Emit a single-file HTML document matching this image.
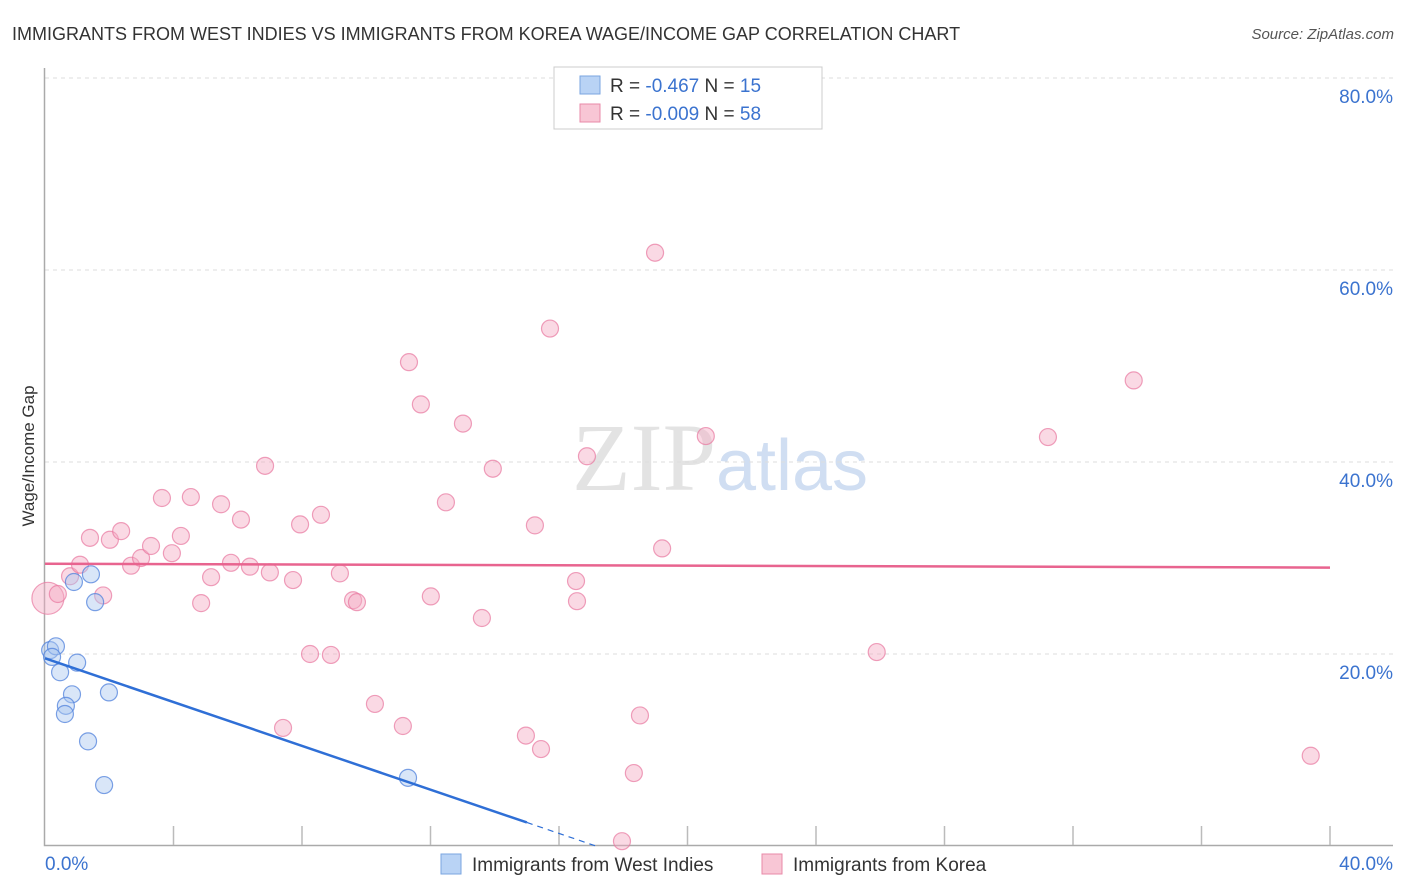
<!DOCTYPE html>
<html><head><meta charset="utf-8">
<style>
body{margin:0;background:#fff;font-family:"Liberation Sans",sans-serif;}
svg{display:block}
</style></head>
<body>
<svg id="chart" width="1406" height="892" xmlns="http://www.w3.org/2000/svg">
<text x="12" y="40" font-size="18" fill="#333">IMMIGRANTS FROM WEST INDIES VS IMMIGRANTS FROM KOREA WAGE/INCOME GAP CORRELATION CHART</text>
<text x="1394" y="39" font-size="15" fill="#555" font-style="italic" text-anchor="end">Source: ZipAtlas.com</text>
<text x="720" y="490" font-size="96" text-anchor="middle" font-family="Liberation Serif,serif" fill="#ddd" opacity="0.8">ZIP<tspan font-family="Liberation Sans,sans-serif" fill="#c5d6ef" font-size="72">atlas</tspan></text>
<g id="grid"></g>
<g id="axes"></g>
<g id="points"></g>
<g id="trends"></g>
<text transform="translate(34,456) rotate(-90)" font-size="17" fill="#333" text-anchor="middle">Wage/Income Gap</text>
<g>
<rect x="554" y="67" width="268" height="62" fill="#fff" stroke="#ccc"/>
<rect x="580" y="76" width="20" height="18" fill="#b9d3f5" stroke="#7aa6e0"/>
<text x="610" y="92" font-size="19" fill="#333">R = <tspan fill="#3b73cf">-0.467</tspan>   N = <tspan fill="#3b73cf">15</tspan></text>
<rect x="580" y="104" width="20" height="18" fill="#f8c6d5" stroke="#e88aa8"/>
<text x="610" y="120" font-size="19" fill="#333">R = <tspan fill="#3b73cf">-0.009</tspan>   N = <tspan fill="#3b73cf">58</tspan></text>
</g>
<g>
<rect x="441" y="854" width="20" height="20" fill="#b9d3f5" stroke="#7aa6e0"/>
<text x="472" y="871" font-size="19" fill="#333">Immigrants from West Indies</text>
<rect x="762" y="854" width="20" height="20" fill="#f8c6d5" stroke="#e88aa8"/>
<text x="793" y="871" font-size="19" fill="#333">Immigrants from Korea</text>
</g>
</svg>
<script>
const yTicks=[20,40,60,80];
const yTickLabels=["20.0%","40.0%","60.0%","80.0%"];
const xTickLabels=["0.0%","40.0%"];
const blueX=[0.16,0.34,0.22,0.47,0.90,1.43,1.56,1.0,0.84,0.65,0.62,1.99,1.34,1.84,11.3];
const blueY=[20.4,20.8,19.7,18.1,27.5,28.3,25.4,19.1,15.8,14.6,13.75,16.0,10.9,6.35,7.1];
const pinkX=[0.09,0.40,0.78,1.09,1.40,1.81,2.02,2.37,2.68,2.99,3.30,3.64,3.95,4.23,4.54,4.86,5.17,5.48,5.79,6.10,6.38,6.85,7.00,7.41,7.72,7.94,8.25,8.59,8.90,9.18,9.59,9.71,10.27,11.14,11.33,11.70,12.01,12.48,13.01,13.60,13.94,14.97,15.25,15.44,15.72,16.53,16.56,16.87,17.96,18.33,18.52,18.99,19.21,20.57,25.89,31.22,33.89,39.40];
const pinkY=[25.8,26.25,28.1,29.3,32.1,26.1,31.9,32.8,29.2,30.0,31.25,36.25,30.5,32.3,36.35,25.3,28.0,35.6,29.5,34.0,29.1,39.6,28.5,12.3,27.7,33.5,20.0,34.5,19.9,28.4,25.6,25.4,14.8,12.5,50.4,46.0,26.0,35.8,44.0,23.75,39.3,11.5,33.4,10.1,53.9,27.6,25.5,40.6,0.5,7.6,13.6,61.8,31.0,42.7,20.2,42.6,48.5,9.4];
const blueTrend=[19.55,-1.14]; // intercept, slope
const pinkTrend=[29.4,-0.01];
const NS="http://www.w3.org/2000/svg";
const X=v=>45+v*32.125, Y=v=>846-v*9.6;
function mk(tag,attrs,parent){const e=document.createElementNS(NS,tag);for(const k in attrs)e.setAttribute(k,attrs[k]);document.getElementById(parent).appendChild(e);return e;}
yTicks.forEach((t,i)=>{
 let g=mk('line',{x1:45,x2:1393,y1:Y(t),y2:Y(t),stroke:'#ddd','stroke-dasharray':'4,4'},'grid');
 
 
 let l=mk('text',{x:1393,y:Y(t)+25,'font-size':19,fill:'#3b73cf','text-anchor':'end'},'grid');
 l.textContent=yTickLabels[i];
 
 
});
let ax=mk('path',{d:'M44.5,68V845.5H1393',fill:'none',stroke:'#aaa','stroke-width':1.5},'axes');


for(let i=1;i<=10;i++){let t=mk('line',{x1:X(i*4),x2:X(i*4),y1:826,y2:845,stroke:'#bbb','stroke-width':1.5},'axes');
 
 }
[[0,'start',45],[1,'end',1393]].forEach(([i,a,x])=>{let l=mk('text',{x:x,y:870,'font-size':19,fill:'#3b73cf','text-anchor':a},'axes');l.textContent=xTickLabels[i];
 
 });
pinkX.forEach((x,i)=>{let c=mk('circle',{cx:X(x),cy:Y(pinkY[i]),r:i==0?16:8.5,fill:'rgba(245,170,195,0.45)',stroke:'rgba(232,120,160,0.7)','stroke-width':1.2},'points');
 
 });
blueX.forEach((x,i)=>{let c=mk('circle',{cx:X(x),cy:Y(blueY[i]),r:8.5,fill:'rgba(170,200,240,0.45)',stroke:'rgba(80,130,220,0.75)','stroke-width':1.2},'points');
 
 });
let pt=mk('line',{x1:X(0),y1:Y(pinkTrend[0]),x2:X(40),y2:Y(pinkTrend[0]+pinkTrend[1]*40),stroke:'#e8648f','stroke-width':2.5},'trends');


let bt=mk('line',{x1:X(0),y1:Y(blueTrend[0]),x2:X(15),y2:Y(blueTrend[0]+blueTrend[1]*15),stroke:'#2f6fd6','stroke-width':2.5},'trends');


let bd=mk('line',{x1:X(15),y1:Y(blueTrend[0]+blueTrend[1]*15),x2:X(17.2),y2:Y(blueTrend[0]+blueTrend[1]*17.2),stroke:'#2f6fd6','stroke-width':1.2,'stroke-dasharray':'6,5'},'trends');


</script>
</body></html>
